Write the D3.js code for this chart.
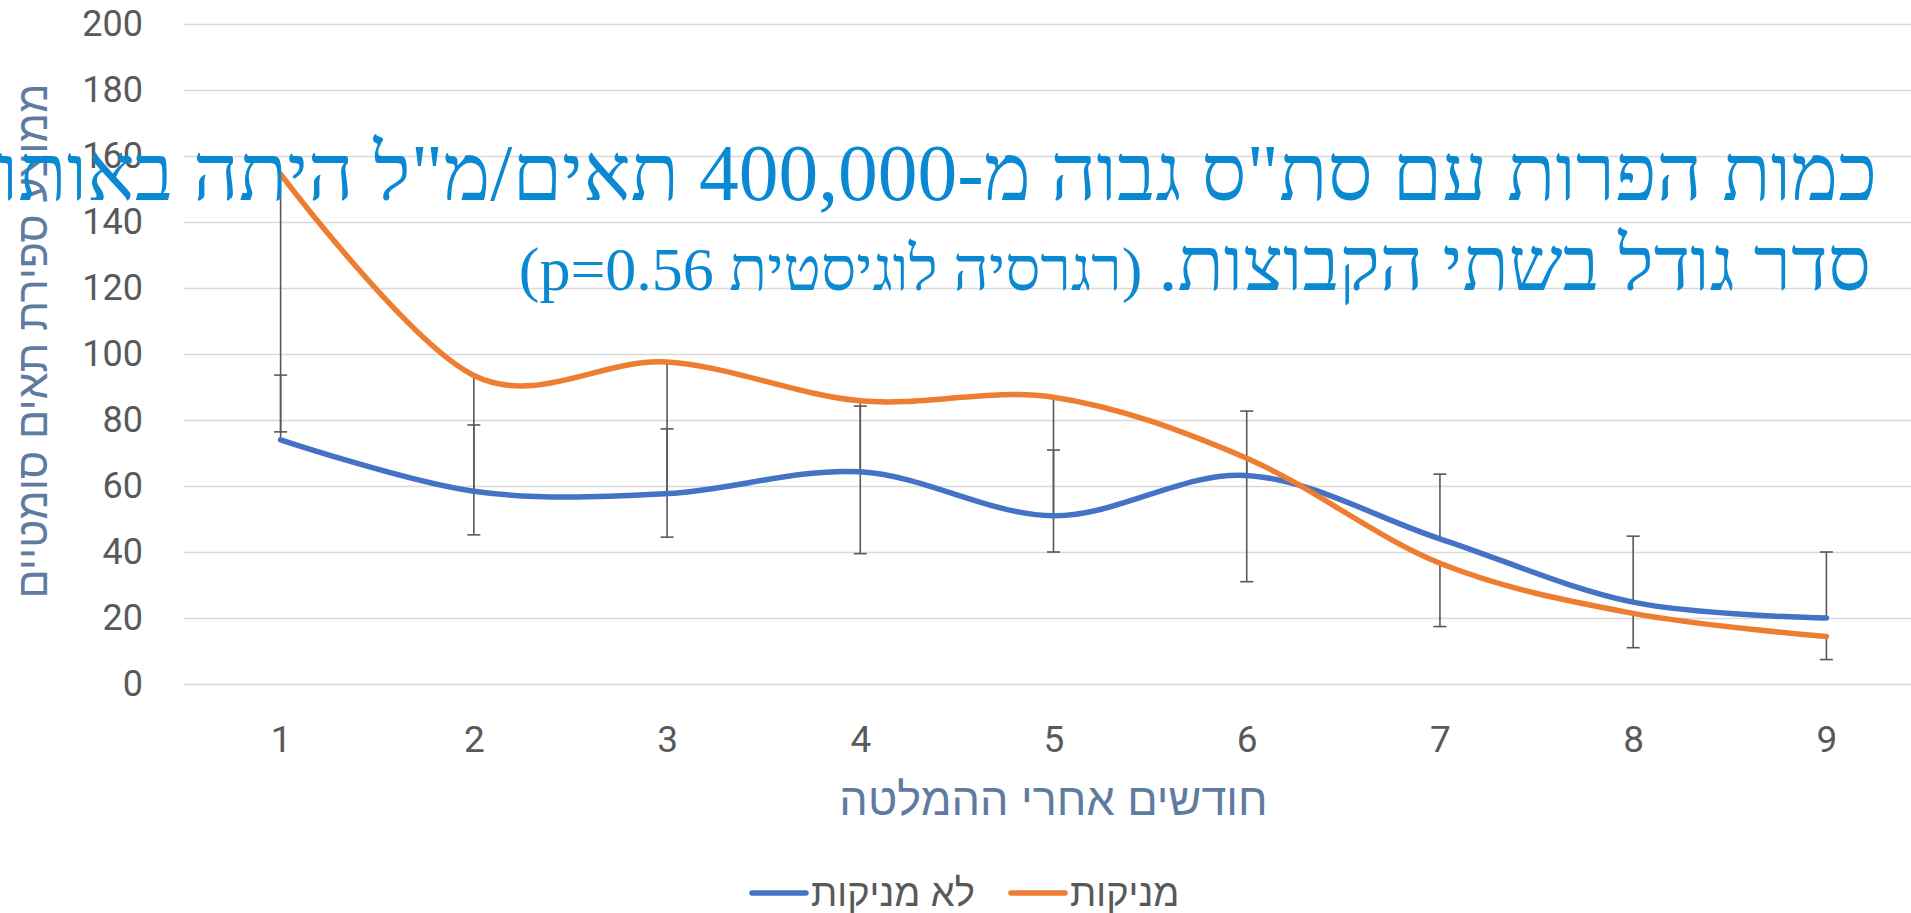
<!DOCTYPE html>
<html>
<head>
<meta charset="utf-8">
<script src="https://cdn.jsdelivr.net/npm/d3@7"></script>
<style>
  body { margin: 0; background: #fff; }
  #chart svg { display: block; }
</style>
</head>
<body>
<div id="chart"></div>
<script>
// data
const months = [1, 2, 3, 4, 5, 6, 7, 8, 9];
const notNursing = [74, 58.4, 57.7, 64.3, 51, 63.2, 44, 24.8, 20];        // לא מניקות
const nursing = [154.5, 93.5, 97.6, 85.8, 86.9, 68.4, 36.6, 21.4, 14.4];  // מניקות
const notNursingErrHigh = [93.6, 78.5, 77.3, 84.2, 70.9, 82.7, 63.6, 44.8, 40];
const nursingErrLow = [76.4, 45.2, 44.5, 39.5, 40, 31, 17.4, 11, 7.4];
const yTicks = [0, 20, 40, 60, 80, 100, 120, 140, 160, 180, 200];

const seriesNames = ["לא מניקות", "מניקות"];
const titleLine1 = "כמות הפרות עם סת\"ס גבוה מ-400,000 תאים/מ\"ל היתה באותו";
const titleLine2 = "סדר גודל בשתי הקבוצות.";
const titleNote = "(רגרסיה לוגיסטית p=0.56)";
const xTitle = "חודשים אחרי ההמלטה";
const yTitle = "ממוצע ספירת תאים סומטיים";

const W = 1911, H = 913;
const plot = { left: 184, right: 1923, top: 24, bottom: 684 };
const blue = "#4472C4", orange = "#ED7D31";
const axisFont = "Roboto, 'Liberation Sans', sans-serif";
const hebFont = "'Liberation Sans', Arial, sans-serif";

const svg = d3.select("#chart")
    .append("svg")
    .attr("width", W)
    .attr("height", H);

const x = d3.scalePoint().domain(months).range([plot.left, plot.right]).padding(0.5);
const y = d3.scaleLinear().domain([0, 200]).range([plot.bottom, plot.top]);

// gridlines
svg.append("g")
    .attr("class", "grid")
    .attr("transform", `translate(${plot.left},0)`)
    .call(d3.axisLeft(y).tickValues(yTicks).tickSize(-(W - plot.left)).tickFormat(''))
    .call(g => g.select(".domain").remove())
    .selectAll(".tick line")
    .style("stroke", "#D9D9D9")
    .style("stroke-width", 1.5);

// y tick labels
svg.append("g")
    .attr("transform", `translate(${plot.left},0)`)
    .call(d3.axisLeft(y).tickValues(yTicks).tickSize(0).tickPadding(41))
    .call(g => g.select(".domain").remove())
    .selectAll("text")
    .style("font-family", axisFont)
    .style("font-size", "36px")
    .style("fill", "#595959");

// x tick labels
svg.append("g")
    .attr("transform", `translate(0,${plot.bottom})`)
    .call(d3.axisBottom(x).tickSize(0).tickPadding(42))
    .call(g => g.select(".domain").remove())
    .selectAll("text")
    .style("font-family", axisFont)
    .style("font-size", "37px")
    .style("fill", "#595959");

// error bars
const capW = 6.5;
function errorBars(vals, ends, cls) {
    const g = svg.append("g").attr("class", cls)
        .style("stroke", "#595959")
        .style("stroke-width", 1.6);
    g.selectAll("line.bar")
        .data(months)
        .enter().append("line")
        .attr("class", "bar")
        .attr("x1", d => x(d)).attr("x2", d => x(d))
        .attr("y1", (d, i) => y(vals[i]))
        .attr("y2", (d, i) => y(ends[i]));
    g.selectAll("line.cap")
        .data(months)
        .enter().append("line")
        .attr("class", "cap")
        .attr("x1", d => x(d) - capW).attr("x2", d => x(d) + capW)
        .attr("y1", (d, i) => y(ends[i]))
        .attr("y2", (d, i) => y(ends[i]));
}
errorBars(nursing, nursingErrLow, "err-nursing");
errorBars(notNursing, notNursingErrHigh, "err-not-nursing");

// smoothed lines
const line = d3.line()
    .x((d, i) => x(months[i]))
    .y(d => y(d))
    .curve(d3.curveCardinal);

svg.append("path")
    .datum(notNursing)
    .attr("d", line)
    .attr("fill", "none")
    .attr("stroke", blue)
    .attr("stroke-width", 5.5)
    .attr("stroke-linecap", "round");

svg.append("path")
    .datum(nursing)
    .attr("d", line)
    .attr("fill", "none")
    .attr("stroke", orange)
    .attr("stroke-width", 5.5)
    .attr("stroke-linecap", "round");

// axis titles
svg.append("text")
    .attr("x", (plot.left + plot.right) / 2)
    .attr("y", 815)
    .attr("text-anchor", "middle")
    .style("font-family", hebFont)
    .style("font-size", "45px")
    .style("fill", "#5f7ba0")
    .text(xTitle);

svg.append("text")
    .attr("transform", "translate(47,341) rotate(-90)")
    .attr("text-anchor", "middle")
    .style("font-family", hebFont)
    .style("font-size", "43px")
    .style("fill", "#5f7ba0")
    .text(yTitle);

// legend
const legend = [
    { name: seriesNames[0], color: blue, x0: 752 },
    { name: seriesNames[1], color: orange, x0: 1011 }
];
legend.forEach(d => {
    svg.append("line")
        .attr("x1", d.x0).attr("x2", d.x0 + 54)
        .attr("y1", 893).attr("y2", 893)
        .attr("stroke", d.color)
        .attr("stroke-width", 5.5)
        .attr("stroke-linecap", "round");
    svg.append("text")
        .attr("x", d.x0 + 59)
        .attr("y", 906)
        .style("font-family", hebFont)
        .style("font-size", "38px")
        .style("fill", "#595959")
        .text(d.name);
});

// chart title (overlaps the plot like in the original)
const titleColor = "#0a89d2";
const titleFont = "'Liberation Serif', 'Times New Roman', serif";

svg.append("text")
    .attr("x", 1877)
    .attr("y", 200)
    .attr("text-anchor", "start")
    .style("direction", "rtl")
    .style("font-family", titleFont)
    .style("font-size", "79.5px")
    .style("fill", titleColor)
    .text(titleLine1);

const t2 = svg.append("text")
    .attr("x", 1871)
    .attr("y", 290)
    .attr("text-anchor", "start")
    .style("direction", "rtl")
    .style("font-family", titleFont)
    .style("font-size", "76px")
    .style("fill", titleColor)
    .text(titleLine2);

const len2 = t2.node().getComputedTextLength();

svg.append("text")
    .attr("x", 1871 - len2 - 16)
    .attr("y", 290)
    .attr("text-anchor", "start")
    .style("direction", "rtl")
    .style("font-family", titleFont)
    .style("font-size", "62px")
    .style("fill", titleColor)
    .text(titleNote);
</script>
</body>
</html>
